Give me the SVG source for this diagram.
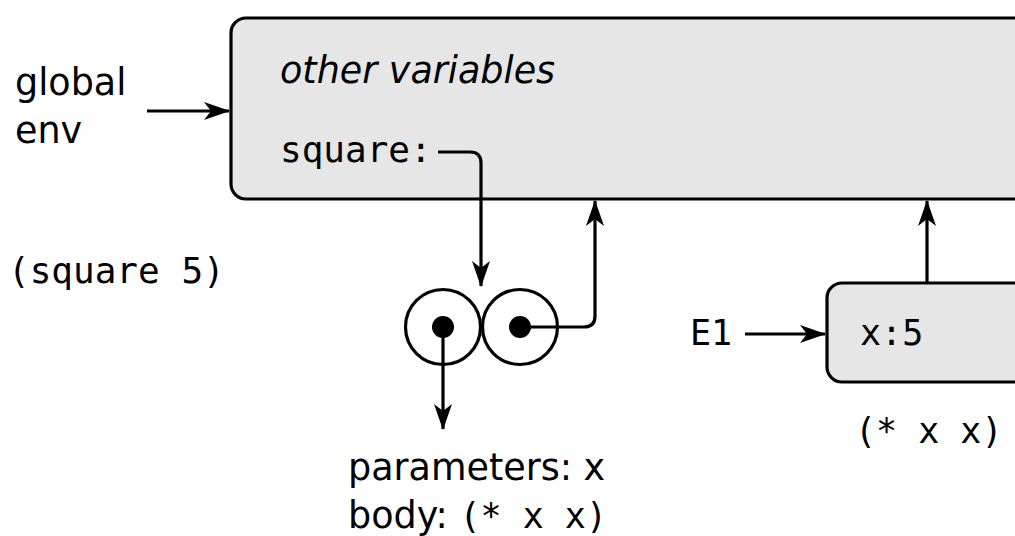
<svg xmlns="http://www.w3.org/2000/svg" width="1015" height="536" viewBox="0 0 1015 536">
<style>
.box{fill:#e6e6e6;stroke:#000;stroke-width:3.2}
.sans{font-family:"DejaVu Sans",sans-serif;font-size:36.5px;fill:#000}
.mono{font-family:"DejaVu Sans Mono",monospace;font-size:35px;fill:#000}
.mono36{font-family:"DejaVu Sans Mono",monospace;font-size:36px;fill:#000}
.it{font-style:italic}
.wire{fill:none;stroke:#000;stroke-width:3.2}
.ring{fill:#fff;stroke:#000;stroke-width:3.2}
</style>
<defs>
<marker id="ah" viewBox="0 0 26 18" refX="25" refY="9" markerWidth="26" markerHeight="18" markerUnits="userSpaceOnUse" orient="auto">
<path d="M0,0 L26,9 L0,18 L7,9 Z" fill="#000"/>
</marker>
</defs>
<g id="global-env">
<rect class="box" x="231" y="18" width="820" height="181" rx="15"/>
<text class="sans it" x="280" y="83">other variables</text>
<text class="mono36" x="280" y="162">square:</text>
</g>
<g id="global-label">
<text class="sans" x="15" y="95">global</text>
<text class="sans" x="15" y="143">env</text>
</g>
<g id="call-label">
<text class="mono36" x="8" y="283">(square 5)</text>
</g>
<g id="function">
<circle class="ring" cx="443" cy="327" r="37.5"/>
<circle class="ring" cx="520" cy="327" r="37.5"/>
<circle cx="443" cy="327" r="11"/>
<circle cx="520" cy="327" r="11"/>
</g>
<g id="function-label">
<text class="sans" x="348" y="480">parameters: x</text>
<text class="sans" x="348" y="528">body: <tspan class="mono">(* x x)</tspan></text>
</g>
<g id="e1">
<rect class="box" x="827" y="283" width="220" height="99" rx="15"/>
<text class="mono" x="860" y="345">x:5</text>
</g>
<g id="e1-label">
<text class="mono" x="690" y="345">E1</text>
</g>
<g id="e1-body">
<text class="mono" x="855" y="443">(* x x)</text>
</g>
<g id="connectors">
<path class="wire" d="M438,152 H470 Q481,152 481,163 V286" marker-end="url(#ah)"/>
<path class="wire" d="M147,111 H229" marker-end="url(#ah)"/>
<path class="wire" d="M520,327 H584 Q595,327 595,316 V201" marker-end="url(#ah)"/>
<path class="wire" d="M443,327 V429" marker-end="url(#ah)"/>
<path class="wire" d="M745,334 H825" marker-end="url(#ah)"/>
<path class="wire" d="M927,283 V201" marker-end="url(#ah)"/>
</g>
</svg>
